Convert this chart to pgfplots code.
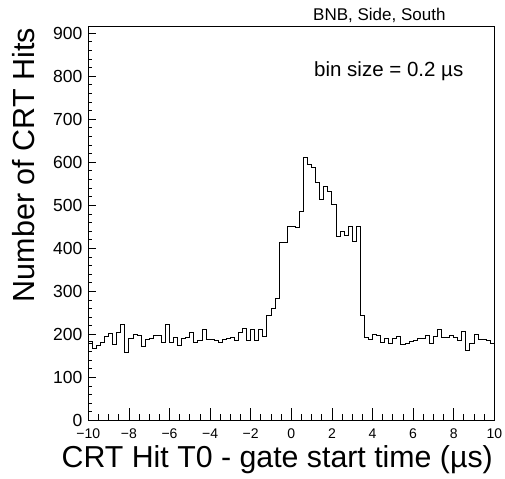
\documentclass[border=0pt]{standalone}
\usepackage{pgfplots}
\pgfplotsset{compat=1.18}
\usepackage{fontspec}
\setmainfont{Liberation Sans}
\begin{document}
\begin{tikzpicture}
\path[use as bounding box] (0bp,0bp) rectangle (505bp,479bp);
\begin{axis}[
  at={(88.3bp,58.5bp)}, anchor=south west,
  width=406bp, height=393.8bp, scale only axis,
  xmin=-10, xmax=10, ymin=0, ymax=915,
  axis line style={line width=1bp},
  tick align=inside, xtick pos=bottom, ytick pos=left,
  xtick={-10,-8,-6,-4,-2,0,2,4,6,8,10},
  xticklabels={−10,−8,−6,−4,−2,0,2,4,6,8,10},
  ytick={0,100,200,300,400,500,600,700,800,900},
  yticklabels={0,100,200,300,400,500,600,700,800,900},
  minor x tick num=3, minor y tick num=4,
  xtick style={/pgfplots/major tick length=12bp,/pgfplots/minor tick length=6bp,line width=0.8bp,black},
  ytick style={/pgfplots/major tick length=8bp,/pgfplots/minor tick length=4bp,line width=0.8bp,black},
  x tick label style={font=\fontsize{14bp}{16bp}\selectfont, yshift=-5bp},
  y tick label style={font=\fontsize{17.5bp}{20bp}\selectfont, xshift=-2.5bp},
]
\addplot[const plot mark left, black, line width=0.9bp] coordinates {
(-10.0,183) (-9.8,167) (-9.6,174) (-9.4,181) (-9.2,196) (-9.0,202) (-8.8,176) (-8.6,204) (-8.4,223) (-8.2,157)
(-8.0,190) (-7.8,201) (-7.6,198) (-7.4,171) (-7.2,188) (-7.0,191) (-6.8,198) (-6.6,198) (-6.4,182) (-6.2,223)
(-6.0,182) (-5.8,192) (-5.6,175) (-5.4,191) (-5.2,194) (-5.0,205) (-4.8,181) (-4.6,187) (-4.4,211) (-4.2,189)
(-4.0,188) (-3.8,186) (-3.6,181) (-3.4,188) (-3.2,191) (-3.0,192) (-2.8,185) (-2.6,204) (-2.4,213) (-2.2,187)
(-2.0,212) (-1.8,186) (-1.6,212) (-1.4,195) (-1.2,243) (-1.0,261) (-0.8,284) (-0.6,414) (-0.4,414) (-0.2,450)
(0.0,452) (0.2,448) (0.4,485) (0.6,612) (0.8,594) (1.0,588) (1.2,553) (1.4,514) (1.6,543) (1.8,532)
(2.0,503) (2.2,427) (2.4,440) (2.6,431) (2.8,450) (3.0,415) (3.2,452) (3.4,243) (3.6,193) (3.8,188)
(4.0,201) (4.2,198) (4.4,181) (4.6,191) (4.8,180) (5.0,191) (5.2,196) (5.4,176) (5.6,179) (5.8,184)
(6.0,187) (6.2,190) (6.4,190) (6.6,197) (6.8,179) (7.0,195) (7.2,211) (7.4,193) (7.6,193) (7.8,197)
(8.0,192) (8.2,185) (8.4,206) (8.6,162) (8.8,180) (9.0,200) (9.2,189) (9.4,188) (9.6,187) (9.8,178)
(10.0,178)
};
\end{axis}
\node[rotate=90, anchor=base east, inner sep=0pt, font=\fontsize{30.5bp}{35bp}\selectfont] at (34bp,451bp) {Number of CRT Hits};
\node[anchor=base east, inner sep=0pt, font=\fontsize{30.3bp}{35bp}\selectfont] at (493bp,12bp) {CRT Hit T0 - gate start time (µs)};
\node[anchor=base west, inner sep=0pt, font=\fontsize{17bp}{20bp}\selectfont] at (313bp,458.3bp) {BNB, Side, South};
\node[anchor=base west, inner sep=0pt, font=\fontsize{20.5bp}{24bp}\selectfont] at (314bp,402.3bp) {bin size = 0.2 µs};
\end{tikzpicture}
\end{document}
